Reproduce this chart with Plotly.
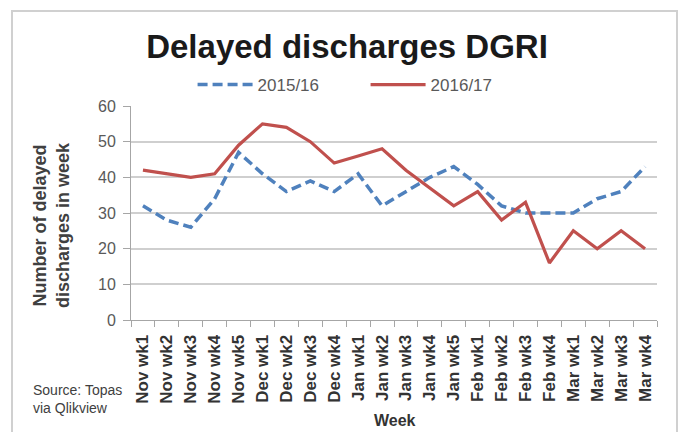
import plotly.graph_objects as go

weeks = ["Nov wk1", "Nov wk2", "Nov wk3", "Nov wk4", "Nov wk5",
         "Dec wk1", "Dec wk2", "Dec wk3", "Dec wk4",
         "Jan wk1", "Jan wk2", "Jan wk3", "Jan wk4", "Jan wk5",
         "Feb wk1", "Feb wk2", "Feb wk3", "Feb wk4",
         "Mar wk1", "Mar wk2", "Mar wk3", "Mar wk4"]
s1516 = [32, 28, 26, 34, 47, 41, 36, 39, 36, 41, 32, 36, 40, 43,
         38, 32, 30, 30, 30, 34, 36, 43]
s1617 = [42, 41, 40, 41, 49, 55, 54, 50, 44, 46, 48, 42, 37, 32,
         36, 28, 33, 16, 25, 20, 25, 20]
y_ticks = [0, 10, 20, 30, 40, 50, 60]

FONT = "Liberation Sans, Arial, sans-serif"

fig = go.Figure()
fig.add_trace(go.Scatter(x=weeks, y=s1516, mode="lines", name="2015/16",
                         line=dict(color="#4F81BD", width=3.5, dash="10px,5px")))
fig.add_trace(go.Scatter(x=weeks, y=s1617, mode="lines", name="2016/17",
                         line=dict(color="#C0504D", width=3.2)))

L, R, T, B = 131, 28, 106, 112
W, H = 685, 432
pw, ph = W - L - R, H - T - B

def px(x):
    return (x - L) / pw

def py(y):
    return (H - B - y) / ph

fig.update_layout(
    width=W, height=H, autosize=False,
    margin=dict(l=L, r=R, t=T, b=B, pad=0, autoexpand=False),
    paper_bgcolor="white", plot_bgcolor="white",
    font=dict(family=FONT, color="#404040"),
    title=dict(text="Delayed discharges DGRI", x=347 / W, xanchor="center",
               y=1 - 46 / H, yanchor="middle",
               font=dict(size=33, color="#1a1a1a", family=FONT, weight=700)),
    showlegend=True,
    legend=dict(orientation="h", xref="container", yref="container",
                x=196 / W - 0.005, xanchor="left", y=1 - 85 / H, yanchor="middle",
                font=dict(size=17, color="#595959"), itemwidth=55,
                bgcolor="rgba(0,0,0,0)", entrywidth=103),
    xaxis=dict(type="category", tickangle=-90, showgrid=False, automargin=False,
               showline=True, linecolor="#A6A6A6", linewidth=1,
               ticks="outside", ticklen=6, tickcolor="#A6A6A6", tickson="boundaries",
               tickfont=dict(size=17, color="#333333", weight=700), ticklabelstandoff=7,
               range=[-0.5, len(weeks) - 0.5]),
    yaxis=dict(range=[0, 60], tickvals=y_ticks, showgrid=True, gridcolor="#CFCFCF",
               gridwidth=2, zeroline=False, showline=True, linecolor="#A6A6A6",
               linewidth=1, ticks="outside", ticklen=7, tickcolor="#A6A6A6", automargin=False,
               tickfont=dict(size=16, color="#595959"), ticklabelstandoff=4),
    shapes=[dict(type="rect", xref="paper", yref="paper",
                 x0=px(12), x1=px(677), y0=py(470), y1=py(11),
                 line=dict(color="#D0D0D0", width=2), fillcolor="rgba(0,0,0,0)",
                 layer="below")],
    annotations=[
        dict(text="<b>Number of delayed<br>discharges in week</b>", xref="paper", yref="paper",
             x=px(51), y=py(225), xanchor="center", yanchor="middle", textangle=-90,
             showarrow=False, font=dict(size=18, color="#404040")),
        dict(text="<b>Week</b>", xref="paper", yref="paper", x=px(395), y=py(420),
             xanchor="center", yanchor="middle", showarrow=False,
             font=dict(size=16, color="#333333")),
        dict(text="Source: Topas<br>via Qlikview", xref="paper", yref="paper",
             x=px(31), y=py(399), xanchor="left", yanchor="middle", align="left",
             showarrow=False, font=dict(size=14, color="#404040")),
    ],
)

fig.write_html("out.html", config={"displayModeBar": False},
               post_script="document.body.style.margin='0';document.body.style.overflow='hidden';")
